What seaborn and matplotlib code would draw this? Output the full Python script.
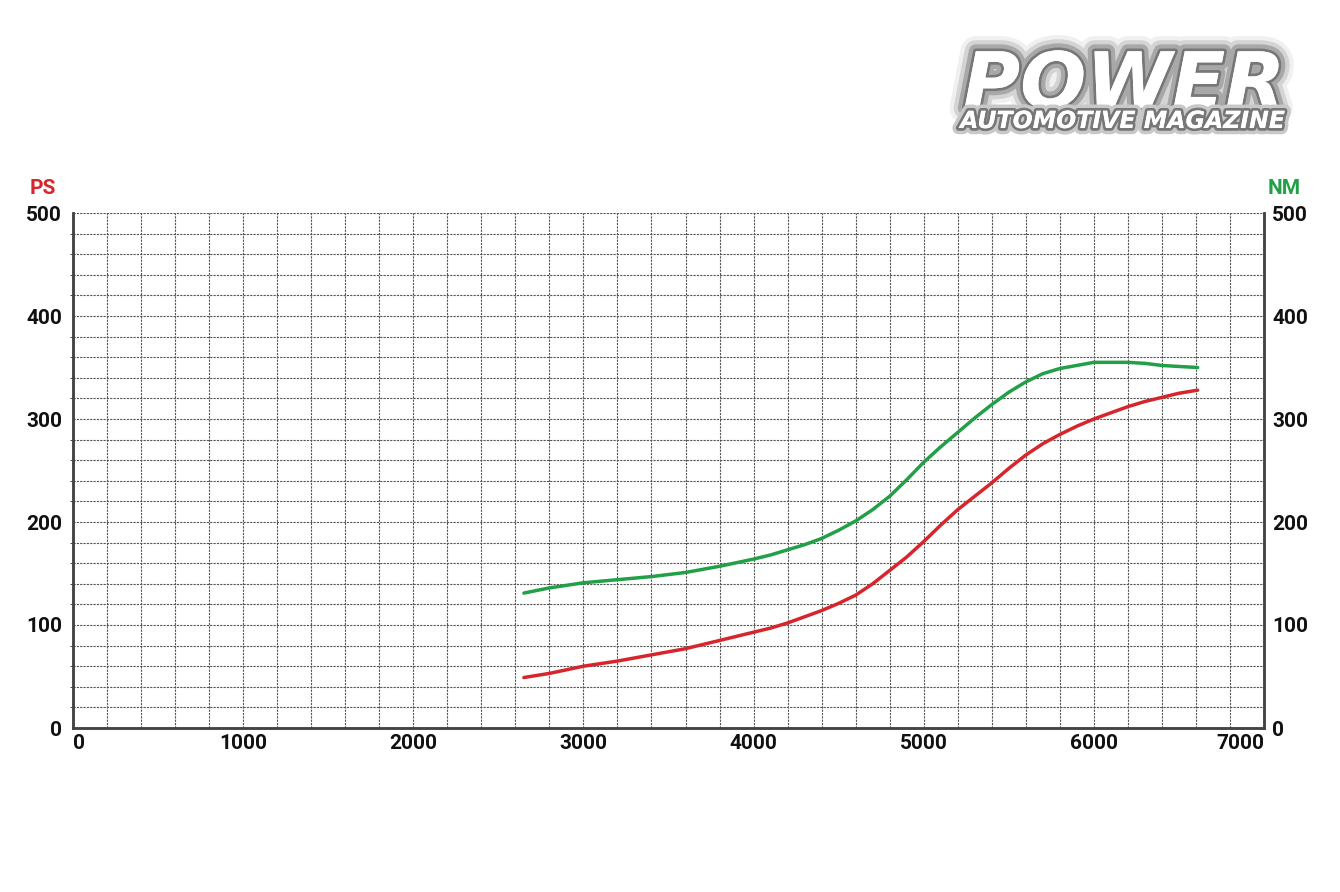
import matplotlib

matplotlib.use("Agg")
import matplotlib.pyplot as plt
import matplotlib.patheffects as pe
import pandas as pd
import seaborn as sns

# dyno readings (rpm vs PS / Nm)
rpm = [2650, 2800, 3000, 3200, 3400, 3600, 3800, 4000, 4100, 4200, 4300,
       4400, 4500, 4600, 4700, 4800, 4900, 5000, 5100, 5200, 5300, 5400,
       5500, 5600, 5700, 5800, 5900, 6000, 6100, 6200, 6300, 6400, 6500, 6610]
power_ps = [49, 53, 60, 65, 71, 77, 85, 93, 97, 102, 108,
            114, 121, 129, 140, 153, 166, 181, 197, 212, 225, 238,
            252, 265, 276, 285, 293, 300, 306, 312, 317, 321, 325, 328]
torque_nm = [131, 136, 141, 144, 147, 151, 157, 164, 168, 173, 178,
             184, 192, 201, 212, 225, 241, 258, 273, 287, 301, 314,
             326, 336, 344, 349, 352, 355, 355, 355, 354, 352, 351, 350]

x_ticks = [0, 1000, 2000, 3000, 4000, 5000, 6000, 7000]
y_ticks = [0, 100, 200, 300, 400, 500]

RED = "#d7262b"
GREEN = "#22a048"
GRID = "#555555"

sns.set_style("white")
plt.rcParams["font.family"] = ["Roboto", "DejaVu Sans"]

df = pd.DataFrame({"rpm": rpm, "ps": power_ps, "nm": torque_nm})

fig = plt.figure(figsize=(13.4, 8.92), dpi=100)
ax = fig.add_axes([73 / 1340, 1 - 728 / 892, (1264 - 73) / 1340, (728 - 213) / 892])
ax2 = ax.twinx()

sns.lineplot(data=df, x="rpm", y="ps", ax=ax, color=RED, linewidth=2.5, sort=True,
             solid_capstyle="round", solid_joinstyle="round")
sns.lineplot(data=df, x="rpm", y="nm", ax=ax2, color=GREEN, linewidth=2.5, sort=True,
             solid_capstyle="round", solid_joinstyle="round")

for a in (ax, ax2):
    a.set_xlim(0, 7000)
    a.set_ylim(0, 500)
    a.set_xlabel("")
    a.set_ylabel("")
    a.set_yticks(y_ticks)
    a.tick_params(length=0, labelsize=15)
    for lab in a.get_yticklabels():
        lab.set_fontweight("bold")
        lab.set_color("#111111")

ax.set_xticks(range(0, 7001, 200), minor=True)
ax.set_yticks(range(0, 501, 20), minor=True)
ax.set_xticks(x_ticks)
ax.grid(which="both", color=GRID, linestyle=(0, (2, 1)), linewidth=0.8)
ax.set_axisbelow(True)
ax2.grid(False)
ax.tick_params(axis="x", pad=4, which="both", length=0)
ax.tick_params(axis="y", pad=8)
ax2.tick_params(axis="y", pad=6)

xlabels = ax.get_xticklabels()
for lab in xlabels:
    lab.set_fontweight("bold")
    lab.set_color("#111111")
xlabels[0].set_horizontalalignment("left")
xlabels[-1].set_horizontalalignment("right")

for a in (ax, ax2):
    for side in ("left", "right", "bottom"):
        a.spines[side].set_visible(True)
        a.spines[side].set_color("#444444")
        a.spines[side].set_linewidth(1.8)
    a.spines["top"].set_visible(False)

fig.text(30 / 1340, 1 - 188 / 892, "PS", color=RED, fontsize=15, fontweight="bold",
         va="center", ha="left")
fig.text(1268 / 1340, 1 - 188 / 892, "NM", color=GREEN, fontsize=15, fontweight="bold",
         va="center", ha="left")

# magazine logo: white lettering with a soft grey halo
glow = [pe.withStroke(linewidth=22, foreground="#f0f0f0"),
        pe.withStroke(linewidth=16, foreground="#d4d4d4"),
        pe.withStroke(linewidth=10, foreground="#a8a8a8"),
        pe.withStroke(linewidth=4, foreground="#777777"),
        pe.Normal()]
fig.text(1285 / 1340, 1 - 108 / 892, "POWER", color="white", fontsize=56,
         fontweight="heavy", fontstyle="italic", family="DejaVu Sans",
         ha="right", va="baseline", path_effects=glow)
fig.text(1285 / 1340, 1 - 128 / 892, "AUTOMOTIVE MAGAZINE", color="white", fontsize=17,
         fontweight="bold", fontstyle="italic", family="DejaVu Sans",
         ha="right", va="baseline",
         path_effects=[pe.withStroke(linewidth=9, foreground="#c8c8c8"),
                       pe.withStroke(linewidth=4, foreground="#777777"), pe.Normal()])

fig.savefig("out.png", dpi=100)
plt.close(fig)
